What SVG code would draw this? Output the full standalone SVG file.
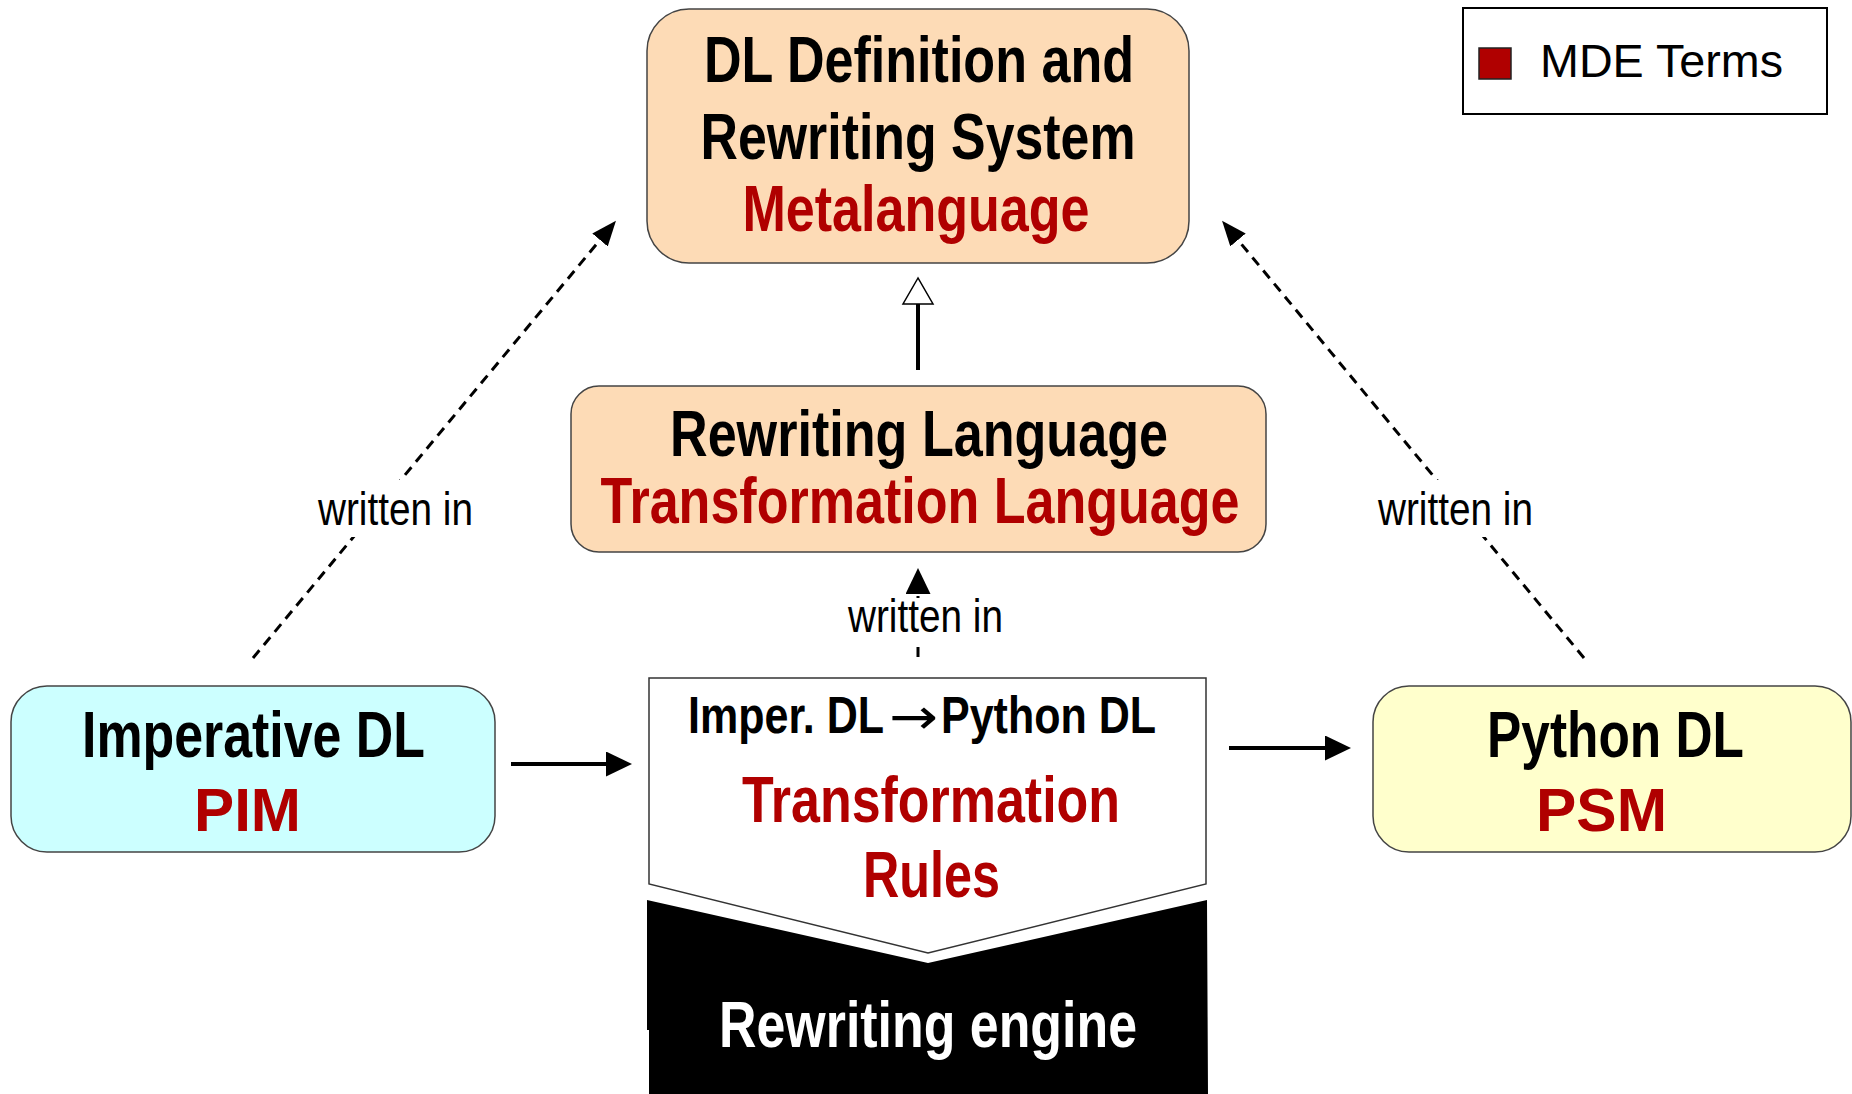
<svg xmlns="http://www.w3.org/2000/svg" width="1852" height="1094" viewBox="0 0 1852 1094">
<style>
.b{font-family:"Liberation Sans Narrow","Liberation Sans",Arial,sans-serif;font-weight:bold;font-size:64px;text-anchor:middle}
.bs{font-family:"Liberation Sans Narrow","Liberation Sans",Arial,sans-serif;font-weight:bold;font-size:52px;text-anchor:start;fill:#000}
.w{font-family:"Liberation Sans Narrow","Liberation Sans",Arial,sans-serif;font-size:46px;text-anchor:middle;fill:#000}
.k{fill:#000}
.r{fill:#B00000}
.box{stroke:#444;stroke-width:1.5}
.dash{fill:none;stroke:#000;stroke-width:3;stroke-dasharray:10 7}
.solid{fill:none;stroke:#000;stroke-width:4}
</style>
<defs>
<marker id="ah" markerUnits="userSpaceOnUse" markerWidth="26" markerHeight="22" refX="0" refY="10" orient="auto" viewBox="0 0 26 22">
<path d="M0,0 L25,10 L0,20 z" fill="#000"/>
</marker>
<marker id="ah2" markerUnits="userSpaceOnUse" markerWidth="27" markerHeight="26" refX="0" refY="12.5" orient="auto" viewBox="0 0 27 26">
<path d="M0,0 L26,12.5 L0,25 z" fill="#000"/>
</marker>
</defs>
<rect width="1852" height="1094" fill="#fff"/>

<g id="metalanguage">
<rect class="box" x="647" y="9" width="542" height="254" rx="42" ry="42" fill="#FDDBB6"/>
<text class="b k" x="919" y="82" textLength="430" lengthAdjust="spacingAndGlyphs">DL Definition and</text>
<text class="b k" x="918" y="159" textLength="435" lengthAdjust="spacingAndGlyphs">Rewriting System</text>
<text class="b r" x="916" y="231" textLength="347" lengthAdjust="spacingAndGlyphs">Metalanguage</text>
</g>

<g id="legend">
<rect x="1463" y="8" width="364" height="106" fill="#fff" stroke="#000" stroke-width="2"/>
<rect x="1479" y="48" width="32" height="31" fill="#B00000" stroke="#222" stroke-width="1.5"/>
<text x="1540" y="77" font-family="'Liberation Sans',Arial,sans-serif" font-size="46" fill="#000" textLength="243" lengthAdjust="spacingAndGlyphs">MDE Terms</text>
</g>

<g id="transformation-language">
<rect class="box" x="571" y="386" width="695" height="166" rx="28" ry="28" fill="#FDDBB6"/>
<text class="b k" x="919" y="456" textLength="498" lengthAdjust="spacingAndGlyphs">Rewriting Language</text>
<text class="b r" x="920" y="523" textLength="639" lengthAdjust="spacingAndGlyphs">Transformation Language</text>
</g>

<g id="pim">
<rect class="box" x="11" y="686" width="484" height="166" rx="36" ry="36" fill="#CCFFFF"/>
<text class="b k" x="253.5" y="757" textLength="343" lengthAdjust="spacingAndGlyphs">Imperative DL</text>
<text x="247.5" y="831" font-family="'Liberation Sans',Arial,sans-serif" font-weight="bold" font-size="62" text-anchor="middle" fill="#B00000" textLength="107" lengthAdjust="spacingAndGlyphs">PIM</text>
</g>

<g id="psm">
<rect class="box" x="1373" y="686" width="478" height="166" rx="36" ry="36" fill="#FFFFCC"/>
<text class="b k" x="1615.5" y="757" textLength="257" lengthAdjust="spacingAndGlyphs">Python DL</text>
<text x="1601.5" y="831" font-family="'Liberation Sans',Arial,sans-serif" font-weight="bold" font-size="62" text-anchor="middle" fill="#B00000" textLength="131" lengthAdjust="spacingAndGlyphs">PSM</text>
</g>

<g id="rewriting-engine">
<polygon points="647,900 928,963 1207,900 1208,1094 649,1094 649,1030 647,1030" fill="#000"/>
<text class="b" x="928" y="1047" fill="#fff" textLength="418" lengthAdjust="spacingAndGlyphs">Rewriting engine</text>
</g>

<g id="transformation-rules">
<polygon points="649,678 1206,678 1206,884 928,953 649,884" fill="#fff" stroke="#333" stroke-width="1.5"/>
<text class="bs" y="733"><tspan x="688" textLength="196" lengthAdjust="spacingAndGlyphs">Imper. DL</tspan><tspan x="889" y="734" font-family="'DejaVu Sans',sans-serif" font-weight="normal" font-size="50" textLength="49" lengthAdjust="spacingAndGlyphs">→</tspan><tspan x="941" y="733" textLength="215" lengthAdjust="spacingAndGlyphs">Python DL</tspan></text>
<text class="b r" x="931" y="822" textLength="378" lengthAdjust="spacingAndGlyphs">Transformation</text>
<text class="b r" x="931.5" y="897" textLength="137" lengthAdjust="spacingAndGlyphs">Rules</text>
</g>

<g id="connectors">
<line class="dash" x1="253" y1="658" x2="600" y2="240" marker-end="url(#ah)"/>
<line class="dash" x1="1584" y1="658" x2="1238" y2="240" marker-end="url(#ah)"/>
<line class="dash" x1="918" y1="657" x2="918" y2="594" marker-end="url(#ah2)"/>
<line class="solid" x1="918" y1="370" x2="918" y2="304"/>
<polygon points="918,278 903,304 933,304" fill="#fff" stroke="#000" stroke-width="1.5"/>
<line class="solid" x1="511" y1="764" x2="606" y2="764" marker-end="url(#ah2)"/>
<line class="solid" x1="1229" y1="748" x2="1325" y2="748" marker-end="url(#ah2)"/>
<g id="label-left">
<rect x="312" y="480" width="168" height="57" fill="#fff"/>
<text class="w" x="395.5" y="525" textLength="155" lengthAdjust="spacingAndGlyphs">written in</text>
</g>
<g id="label-right">
<rect x="1372" y="480" width="168" height="57" fill="#fff"/>
<text class="w" x="1455.5" y="525" textLength="155" lengthAdjust="spacingAndGlyphs">written in</text>
</g>
<g id="label-center">
<rect x="842" y="598" width="168" height="48" fill="#fff"/>
<text class="w" x="925.5" y="632" textLength="155" lengthAdjust="spacingAndGlyphs">written in</text>
</g>
</g>
</svg>
